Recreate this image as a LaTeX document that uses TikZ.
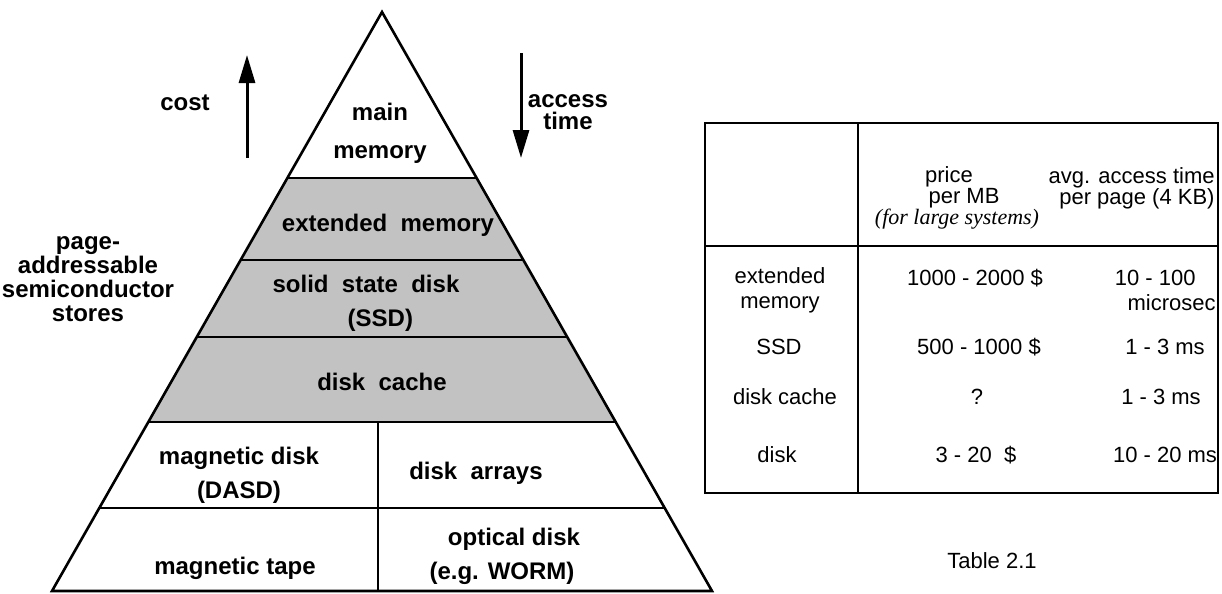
\documentclass[tikz,border=0pt]{standalone}
\usepackage{fontspec}
\setmainfont{Liberation Sans}
\newfontfamily\timesit{Liberation Serif}
\usetikzlibrary{arrows.meta}

\begin{document}
\begin{tikzpicture}[x=0.5pt,y=-0.5pt,
  edge/.style={line width=1.3pt, line join=miter},
  band/.style={fill=black!24},
  lbl/.style={font=\fontsize{12}{17}\selectfont\bfseries, align=center, inner sep=0pt},
  cell/.style={font=\fontsize{11}{12.5}\selectfont, align=center, inner sep=0pt},
  bigarrow/.style={line width=1.5pt, -{Triangle[width=8pt,length=14pt]}},
  rule/.style={line width=1.1pt}]

\useasboundingbox (0,0) rectangle (1222,594);

% ---- pyramid: corners of the levels
\coordinate (apex) at (382,12);
\coordinate (bl) at (52,591);
\coordinate (br) at (712,591);
\coordinate (l1) at (287.4,178); \coordinate (r1) at (476.6,178);
\coordinate (l2) at (240.7,260); \coordinate (r2) at (523.3,260);
\coordinate (l3) at (196.8,337); \coordinate (r3) at (567.2,337);
\coordinate (l4) at (148.3,422); \coordinate (r4) at (615.7,422);
\coordinate (l5) at (99.3,508);  \coordinate (r5) at (664.7,508);
\coordinate (dtop) at (378,422);
\coordinate (dbot) at (378,591);

% shaded semiconductor levels
\fill[band] (l1) -- (r1) -- (r4) -- (l4) -- cycle;

% outline and level boundaries
\draw[edge] (apex) -- (br) -- (bl) -- cycle;
\draw[edge] (l1) -- (r1);
\draw[edge] (l2) -- (r2);
\draw[edge] (l3) -- (r3);
\draw[edge] (l4) -- (r4);
\draw[edge] (l5) -- (r5);
\draw[edge] (dtop) -- (dbot);

% level labels
\node[lbl] (mainmem) at (380,133) {main\\[2pt]memory};
\node[lbl] (extmem) at (388,225) {extended\ \ memory};
\node[lbl] (ssd) at (366,303) {solid\ \ state\ \ disk\\\hspace*{1.2em}(SSD)};
\node[lbl] (cache) at (382,382) {disk\ \ cache};
\node[lbl] (magdisk) at (239,475) {magnetic disk\\(DASD)};
\node[lbl] (arrays) at (476,473) {disk\ \ arrays};
\node[lbl] (tape) at (235,568) {magnetic tape};
\node[lbl] (optical) at (502,556) {\hspace*{1em}optical disk\\(e.g. WORM)};

% side annotations
\node[lbl] (cost) at (185,103) {cost};
\coordinate (costlo) at (247,158);
\coordinate (costhi) at (247,55);
\draw[bigarrow] (costlo) -- (costhi);

\coordinate (acchi) at (521,53);
\coordinate (acclo) at (521,158);
\draw[bigarrow] (acchi) -- (acclo);
\node[lbl, font=\fontsize{12}{11}\selectfont\bfseries] (access) at (568,112) {access\\time};

\node[lbl, font=\fontsize{12}{12}\selectfont\bfseries] (stores) at (88,279)
  {page-\\addressable\\semiconductor\\stores};

% ---- table
\coordinate (tnw) at (705,123);
\coordinate (tse) at (1218,493);
\coordinate (hl) at (705,246);
\coordinate (hr) at (1218,246);
\coordinate (ct) at (858,123);
\coordinate (cb) at (858,493);
\draw[rule] (tnw) rectangle (tse);
\draw[rule] (hl) -- (hr);
\draw[rule] (ct) -- (cb);

\node[cell, font=\fontsize{11}{10.3}\selectfont] (hprice) at (957,198)
  {price\hspace*{8pt}\\\hspace*{7pt}per MB\\{\timesit\itshape (for large systems)}};
\node[cell, font=\fontsize{11}{10.5}\selectfont, align=right, anchor=east] (haccess) at (1215,188)
  {avg. access time\\per page (4 KB)};

\node[cell] (rext) at (780,290) {extended\\memory};
\node[cell] (pext) at (975,278) {1000 - 2000 \$};
\node[cell, align=right, anchor=east] (aext) at (1216,290) {10 - 100\hspace*{10pt}\\microsec};

\node[cell] (rssd) at (779,347) {SSD};
\node[cell] (pssd) at (979,347) {500 - 1000 \$};
\node[cell] (assd) at (1165,347) {1 - 3 ms};

\node[cell] (rcache) at (785,397) {disk cache};
\node[cell] (pcache) at (977,397) {?};
\node[cell] (acache) at (1161,397) {1 - 3 ms};

\node[cell] (rdisk) at (777,455) {disk};
\node[cell] (pdisk) at (976,455) {3 - 20\ \ \$};
\node[cell] (adisk) at (1165,455) {10 - 20 ms};

\node[cell] (caption) at (992,561) {Table 2.1};
\end{tikzpicture}
\end{document}
